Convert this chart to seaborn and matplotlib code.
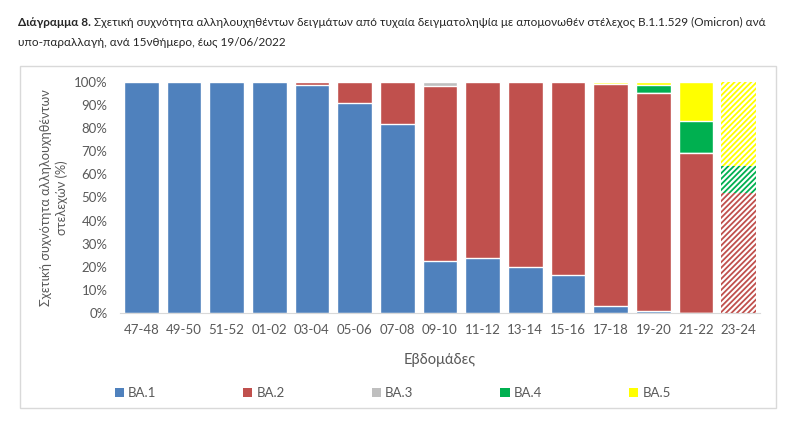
import pandas as pd
import matplotlib
matplotlib.use("Agg")
import matplotlib.pyplot as plt
import seaborn as sns
from matplotlib.patches import Patch, Rectangle

# Δεδομένα (εκτίμηση από το γράφημα, %)
weeks = ["47-48", "49-50", "51-52", "01-02", "03-04", "05-06", "07-08", "09-10",
         "11-12", "13-14", "15-16", "17-18", "19-20", "21-22", "23-24"]
ba1 = [100, 100, 100, 100, 98.5, 91.0, 81.8, 22.5, 23.7, 19.8, 16.5, 3.2, 1.0, 0, 0]
ba2 = [0, 0, 0, 0, 1.5, 9.0, 18.2, 75.9, 76.3, 80.2, 83.5, 95.9, 94.4, 69.1, 52.1]
ba3 = [0, 0, 0, 0, 0, 0, 0, 1.6, 0, 0, 0, 0, 0, 0, 0]
ba4 = [0, 0, 0, 0, 0, 0, 0, 0, 0, 0, 0, 0, 3.3, 14.0, 11.5]
ba5 = [0, 0, 0, 0, 0, 0, 0, 0, 0, 0, 0, 0.9, 1.3, 16.9, 36.4]
hatched_week = "23-24"

variants = ["BA.1", "BA.2", "BA.3", "BA.4", "BA.5"]
colors = ["#4F81BD", "#C0504D", "#BFBFBF", "#00B050", "#FFFF00"]

df = pd.DataFrame({"week": weeks, "BA.1": ba1, "BA.2": ba2, "BA.3": ba3,
                   "BA.4": ba4, "BA.5": ba5})
cum = df[variants].cumsum(axis=1) / 100
cum["week"] = df["week"]

sns.set_style("white")
plt.rcParams["font.family"] = ["Lato", "DejaVu Sans"]
plt.rcParams["hatch.linewidth"] = 1.3

fig = plt.figure(figsize=(8, 4.34), dpi=100)
ax = fig.add_axes([0.15, 0.279, 0.80, 0.532])

# στοιβαγμένες μπάρες: σχεδίαση αθροιστικών τιμών από πάνω προς τα κάτω
hi = weeks.index(hatched_week)
for var, col in zip(variants[::-1], colors[::-1]):
    n0 = len(ax.patches)
    sns.barplot(data=cum, x="week", y=var, color=col, saturation=1,
                width=0.82, ax=ax, order=weeks)
    new = ax.patches[n0:]
    if len(new) == len(weeks):
        p = new[hi]
        p.set_facecolor("white")
        p.set_edgecolor(col)
        p.set_hatch("//////")
        p.set_linewidth(0)

ax.set_ylim(0, 1)
ax.set_xlim(-0.5, len(weeks) - 0.5)
ax.set_yticks([i / 10 for i in range(11)])
ax.set_yticklabels([f"{i * 10}%" for i in range(11)])
ax.tick_params(axis="both", length=0, colors="#595959", labelsize=9.5)
ax.tick_params(axis="x", pad=8)
ax.tick_params(axis="y", pad=9)
for s in ["top", "right", "left"]:
    ax.spines[s].set_visible(False)
ax.spines["bottom"].set_color("#D9D9D9")

ax.set_xlabel("Εβδομάδες", fontsize=10.5, color="#595959", labelpad=12)
ax.set_ylabel("Σχετική συχνότητα αλληλουχηθέντων\nστελεχών (%)",
              fontsize=9.2, color="#595959", labelpad=4, linespacing=1.35)

handles = [Patch(facecolor=c, edgecolor="none") for c in colors]
leg = ax.legend(handles, variants, loc="upper left", bbox_to_anchor=(-0.027, -0.27),
                ncol=5, frameon=False, handlelength=0.7, handleheight=0.7,
                handletextpad=0.3, columnspacing=6.6, fontsize=9.5)
for t in leg.get_texts():
    t.set_color("#595959")

# πλαίσιο γραφήματος
fig.patches.append(Rectangle((20 / 800, 1 - 408 / 434), 756 / 800, 342 / 434,
                             transform=fig.transFigure, fill=False,
                             edgecolor="#D9D9D9", linewidth=1))

# τίτλος: έντονο πρόθεμα και κανονικό κείμενο αμέσως μετά
t1 = fig.text(18 / 800, 1 - 22 / 434, "Διάγραμμα 8.", fontsize=8.5, fontweight="bold",
              va="center", ha="left")
fig.canvas.draw()
bb = t1.get_window_extent()
fig.text(bb.x1 / 800 + 3 / 800, 1 - 22 / 434,
         "Σχετική συχνότητα αλληλουχηθέντων δειγμάτων από τυχαία δειγματοληψία "
         "με απομονωθέν στέλεχος B.1.1.529 (Omicron) ανά",
         fontsize=8.5, va="center", ha="left")
fig.text(18 / 800, 1 - 42 / 434, "υπο-παραλλαγή, ανά 15νθήμερο, έως 19/06/2022",
         fontsize=8.5, va="center", ha="left")

fig.savefig("out.png", dpi=100)
